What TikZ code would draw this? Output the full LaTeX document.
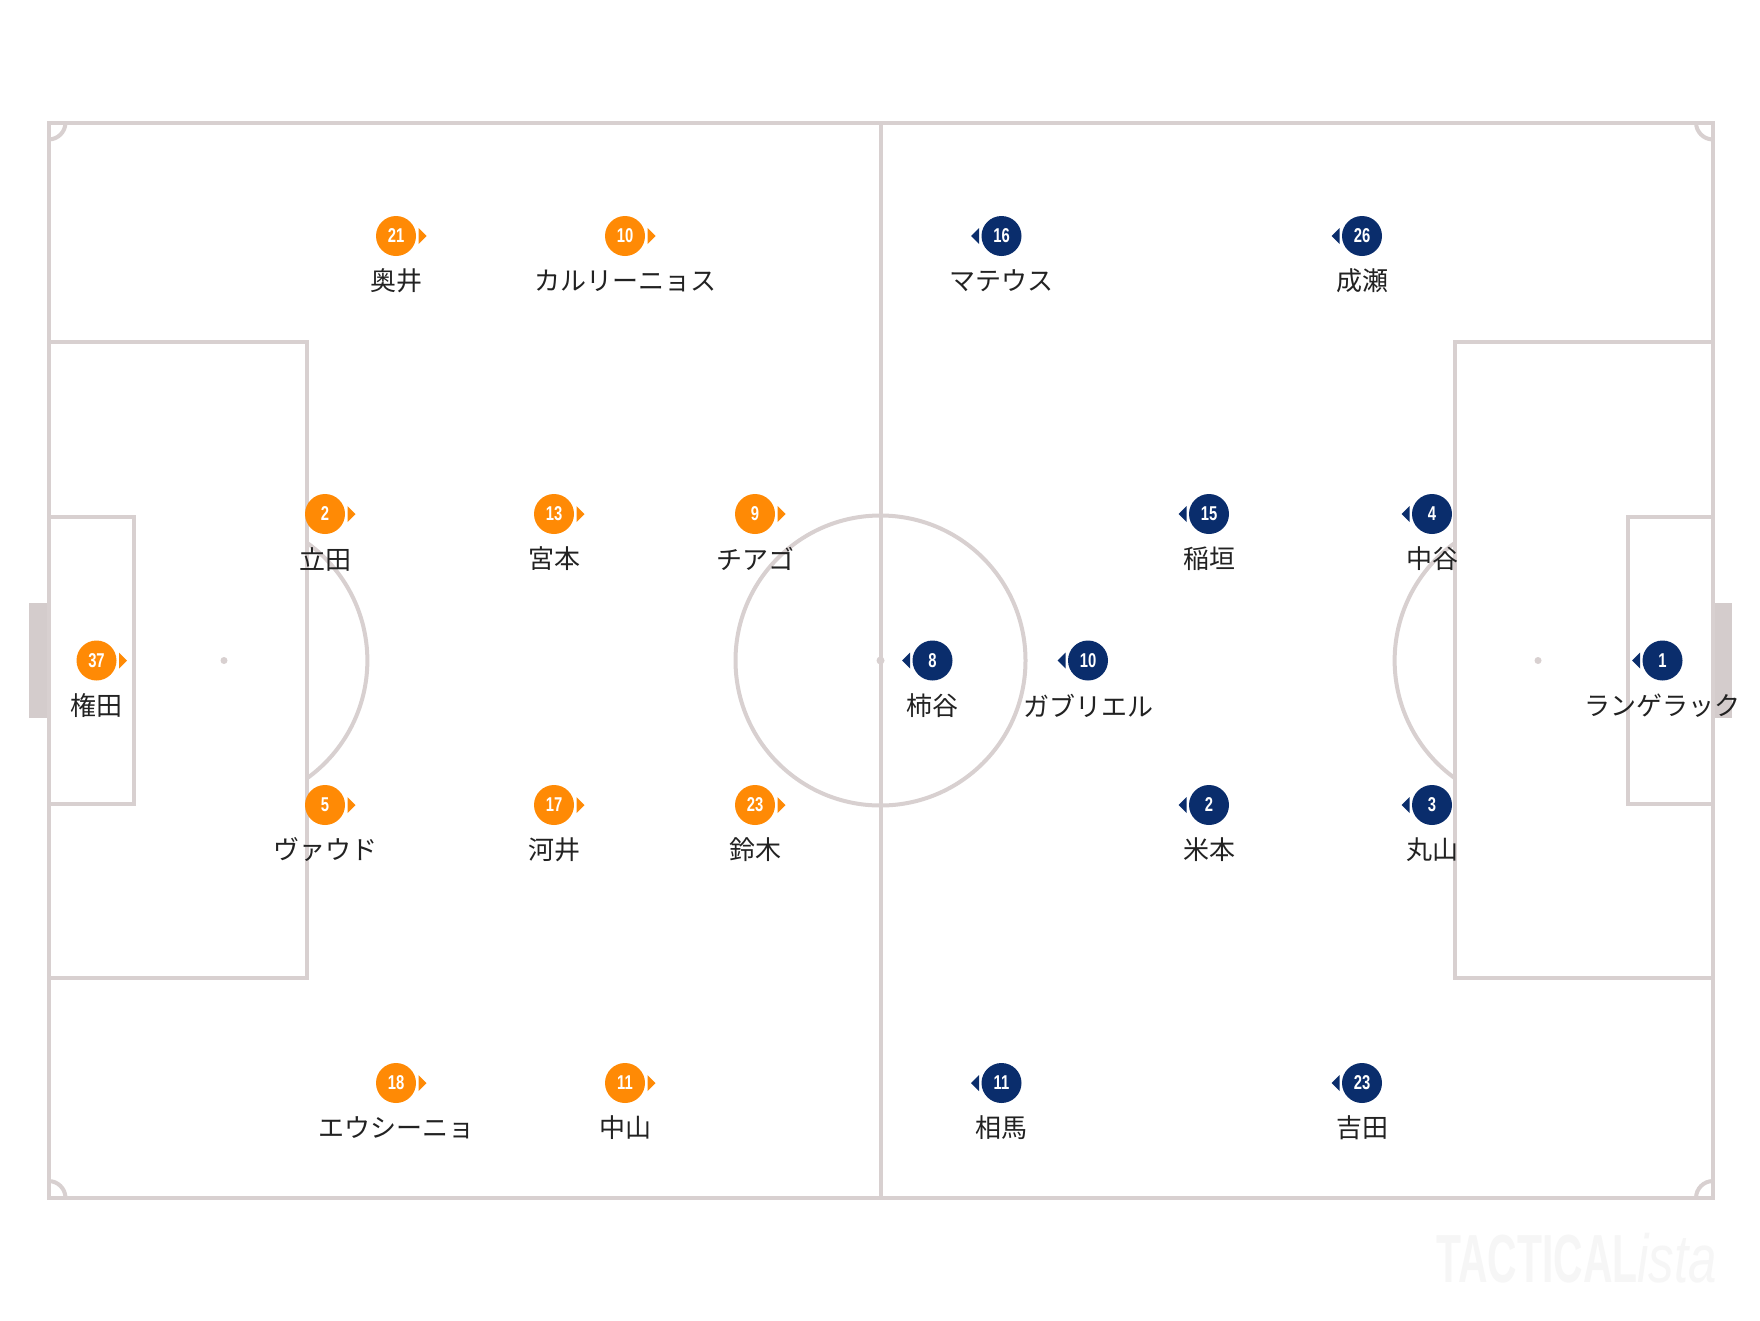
\documentclass[tikz,border=0pt]{standalone}
\usepackage{fontspec}
\setmainfont{Liberation Sans}
\newfontfamily\jpfont{Noto Sans CJK JP}
\definecolor{linec}{RGB}{216,208,208}
\definecolor{goalc}{RGB}{212,204,204}
\definecolor{orng}{RGB}{255,138,5}
\definecolor{navy}{RGB}{10,45,108}
\definecolor{textc}{RGB}{34,34,34}
\definecolor{wmark}{RGB}{246,246,246}
\tikzset{
  pline/.style={draw=linec, line width=4pt},
  ball/.style={circle, minimum size=40pt, inner sep=0pt, text=white,
    font=\bfseries\fontsize{20}{20}\selectfont},
  oball/.style={ball, fill=orng},
  bball/.style={ball, fill=navy},
  lab/.style={font=\jpfont\fontsize{26}{30}\selectfont, text=textc, inner sep=0pt},
}
\newcommand\numtxt[1]{\scalebox{0.74}[1]{#1}}
\newcommand\oplayer[4]{%
  \node[oball] (#1) at (#2) {\numtxt{#3}};
  \fill[orng] ([xshift=22.5pt,yshift=8pt]#1.center) -- ++(8pt,-8pt) -- ++(-8pt,-8pt) -- cycle;
  \node[lab] (#1l) at ([yshift=-45pt]#1.center) {#4};}
\newcommand\bplayer[4]{%
  \node[bball] (#1) at (#2) {\numtxt{#3}};
  \fill[navy] ([xshift=-22.5pt,yshift=8pt]#1.center) -- ++(-8pt,-8pt) -- ++(8pt,-8pt) -- cycle;
  \node[lab] (#1l) at ([yshift=-45pt]#1.center) {#4};}
\begin{document}
\begin{tikzpicture}[x=1pt,y=-1pt]
\useasboundingbox (0,0) rectangle (1760,1320);
\fill[white] (0,0) rectangle (1760,1320);
% goals
\fill[goalc] (29,603) rectangle (48,718);
\fill[goalc] (1713,603) rectangle (1732,718);
% pitch
\draw[pline] (48.5,122.5) rectangle (1713,1198);
\draw[pline] (880.5,122.5) -- (880.5,1198);
\draw[pline] (880.5,660.5) circle (145);
\fill[linec] (880.5,660.5) circle (4);
% left boxes
\draw[pline] (48.5,342) -- (307,342) -- (307,978) -- (48.5,978);
\draw[pline] (48.5,517) -- (134,517) -- (134,804) -- (48.5,804);
\fill[linec] (224,660.5) circle (3.5);
\draw[pline] (307,542.8) arc[start angle=-54.3, end angle=54.3, radius=145];
% right boxes
\draw[pline] (1713,342) -- (1455,342) -- (1455,978) -- (1713,978);
\draw[pline] (1713,517) -- (1628,517) -- (1628,804) -- (1713,804);
\fill[linec] (1538,660.5) circle (3.5);
\draw[pline] (1455,542.8) arc[start angle=234.3, end angle=125.7, radius=145];
% corner arcs
\draw[pline] (48.5,139.5) arc[start angle=90, end angle=0, radius=17];
\draw[pline] (1696,122.5) arc[start angle=180, end angle=90, radius=17];
\draw[pline] (65.5,1198) arc[start angle=0, end angle=-90, radius=17];
\draw[pline] (1713,1181) arc[start angle=270, end angle=180, radius=17];
% orange team
\oplayer{o21}{396,236}{21}{奥井}
\oplayer{o10}{625,236}{10}{カルリーニョス}
\oplayer{o2}{325,514}{2}{立田}
\oplayer{o13}{554,514}{13}{宮本}
\oplayer{o9}{755,514}{9}{チアゴ}
\oplayer{o37}{96.5,660.5}{37}{権田}
\oplayer{o5}{325,805}{5}{ヴァウド}
\oplayer{o17}{554,805}{17}{河井}
\oplayer{o23}{755,805}{23}{鈴木}
\oplayer{o18}{396,1083}{18}{エウシーニョ}
\oplayer{o11}{625,1083}{11}{中山}
% navy team
\bplayer{b16}{1001.5,236}{16}{マテウス}
\bplayer{b26}{1362,236}{26}{成瀬}
\bplayer{b15}{1209,514}{15}{稲垣}
\bplayer{b4}{1432,514}{4}{中谷}
\bplayer{b8}{932.5,660.5}{8}{柿谷}
\bplayer{b10}{1088,660.5}{10}{ガブリエル}
\bplayer{b1}{1662.5,660.5}{1}{ランゲラック}
\bplayer{b2}{1209,805}{2}{米本}
\bplayer{b3}{1432,805}{3}{丸山}
\bplayer{b11}{1001.5,1083}{11}{相馬}
\bplayer{b23}{1362,1083}{23}{吉田}
% watermark
\node[anchor=east, inner sep=0pt, text=wmark] (wm) at (1717,1258)
  {\fontsize{68}{68}\selectfont\scalebox{0.6}[1]{\bfseries TACTICAL}\scalebox{0.75}[1]{\itshape ista}};
\end{tikzpicture}
\end{document}
